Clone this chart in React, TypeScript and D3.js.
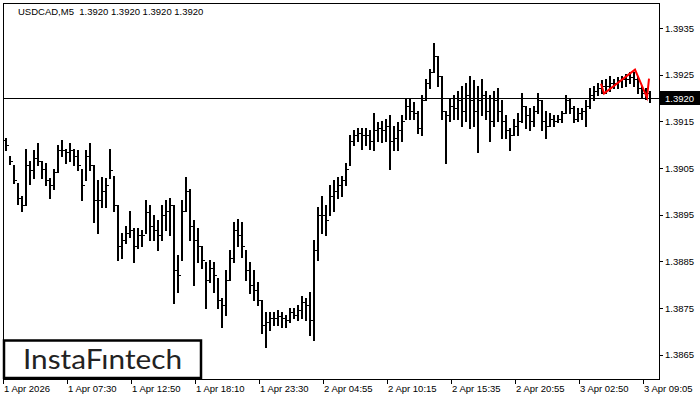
import React from 'react';
import * as d3 from 'd3';

const chartTitle = 'USDCAD,M5  1.3920 1.3920 1.3920 1.3920';
const logoText = 'InstaFıntech';

const highs = [
  1.39114, 1.39075, 1.39056, 1.39019, 1.38991, 1.39090, 1.39066, 1.39088, 1.39103, 1.39066,
  1.39060, 1.39028, 1.39049, 1.39099, 1.39111, 1.39092, 1.39103, 1.39092, 1.39088, 1.39049,
  1.39088, 1.39103, 1.39056, 1.39024, 1.39030, 1.39028, 1.39090, 1.39034, 1.38970, 1.38912,
  1.38925, 1.38959, 1.38921, 1.38921, 1.38917, 1.38981, 1.38970, 1.38949, 1.38938, 1.38970,
  1.38981, 1.38985, 1.38970, 1.38863, 1.38981, 1.39030, 1.39006, 1.38938, 1.38921, 1.38884,
  1.38848, 1.38852, 1.38848, 1.38814, 1.38771, 1.38831, 1.38874, 1.38934, 1.38942, 1.38934,
  1.38874, 1.38848, 1.38831, 1.38805, 1.38767, 1.38741, 1.38741, 1.38741, 1.38745, 1.38741,
  1.38735, 1.38750, 1.38750, 1.38756, 1.38775, 1.38771, 1.38784, 1.38895, 1.38966, 1.38991,
  1.38970, 1.39013, 1.39024, 1.39030, 1.39034, 1.39060, 1.39120, 1.39131, 1.39135, 1.39135,
  1.39135, 1.39131, 1.39169, 1.39148, 1.39152, 1.39156, 1.39163, 1.39141, 1.39148, 1.39163,
  1.39201, 1.39199, 1.39191, 1.39173, 1.39206, 1.39242, 1.39263, 1.39319, 1.39291, 1.39248,
  1.39173, 1.39201, 1.39206, 1.39216, 1.39227, 1.39233, 1.39248, 1.39238, 1.39227, 1.39242,
  1.39216, 1.39206, 1.39216, 1.39221, 1.39195, 1.39163, 1.39135, 1.39156, 1.39169, 1.39210,
  1.39184, 1.39178, 1.39184, 1.39212, 1.39195, 1.39173, 1.39169, 1.39163, 1.39163, 1.39173,
  1.39206, 1.39199, 1.39184, 1.39178, 1.39178, 1.39195, 1.39221, 1.39227, 1.39233, 1.39238,
  1.39242, 1.39248, 1.39242, 1.39246, 1.39248, 1.39251, 1.39255, 1.39255, 1.39248, 1.39227,
  1.39221, 1.39216,
];

const lows = [
  1.39088, 1.39058, 1.39019, 1.38974, 1.38959, 1.38970, 1.39017, 1.39028, 1.39056, 1.39028,
  1.39013, 1.38987, 1.39006, 1.39041, 1.39077, 1.39060, 1.39066, 1.39056, 1.39045, 1.38981,
  1.39024, 1.39045, 1.38934, 1.38910, 1.38966, 1.38966, 1.39028, 1.38959, 1.38852, 1.38857,
  1.38889, 1.38902, 1.38848, 1.38878, 1.38884, 1.38912, 1.38895, 1.38895, 1.38874, 1.38895,
  1.38917, 1.38906, 1.38760, 1.38784, 1.38852, 1.38959, 1.38895, 1.38799, 1.38848, 1.38835,
  1.38750, 1.38805, 1.38784, 1.38750, 1.38709, 1.38735, 1.38810, 1.38848, 1.38884, 1.38859,
  1.38810, 1.38782, 1.38767, 1.38756, 1.38696, 1.38666, 1.38702, 1.38713, 1.38713, 1.38709,
  1.38709, 1.38720, 1.38728, 1.38724, 1.38728, 1.38724, 1.38692, 1.38681, 1.38852, 1.38910,
  1.38906, 1.38949, 1.38959, 1.38985, 1.38991, 1.39013, 1.39056, 1.39099, 1.39109, 1.39092,
  1.39099, 1.39092, 1.39088, 1.39109, 1.39105, 1.39109, 1.39049, 1.39088, 1.39088, 1.39109,
  1.39156, 1.39156, 1.39156, 1.39126, 1.39120, 1.39195, 1.39221, 1.39255, 1.39227, 1.39156,
  1.39060, 1.39152, 1.39156, 1.39156, 1.39141, 1.39152, 1.39135, 1.39141, 1.39084, 1.39163,
  1.39156, 1.39109, 1.39141, 1.39152, 1.39114, 1.39114, 1.39088, 1.39120, 1.39120, 1.39148,
  1.39135, 1.39131, 1.39141, 1.39169, 1.39131, 1.39114, 1.39141, 1.39141, 1.39148, 1.39148,
  1.39169, 1.39169, 1.39148, 1.39152, 1.39156, 1.39141, 1.39178, 1.39195, 1.39206, 1.39210,
  1.39212, 1.39216, 1.39221, 1.39221, 1.39223, 1.39227, 1.39233, 1.39227, 1.39212, 1.39201,
  1.39199, 1.39191,
];

const closes = [
  1.39099, 1.39066, 1.39024, 1.38985, 1.38970, 1.39056, 1.39045, 1.39071, 1.39066, 1.39049,
  1.39024, 1.39013, 1.39041, 1.39088, 1.39088, 1.39084, 1.39088, 1.39077, 1.39056, 1.39013,
  1.39077, 1.39056, 1.38981, 1.38981, 1.39002, 1.39013, 1.39045, 1.38970, 1.38884, 1.38895,
  1.38912, 1.38917, 1.38884, 1.38906, 1.38906, 1.38955, 1.38927, 1.38917, 1.38906, 1.38949,
  1.38959, 1.38970, 1.38831, 1.38820, 1.38959, 1.39002, 1.38927, 1.38895, 1.38884, 1.38852,
  1.38810, 1.38835, 1.38820, 1.38767, 1.38756, 1.38810, 1.38857, 1.38917, 1.38906, 1.38884,
  1.38831, 1.38799, 1.38788, 1.38767, 1.38713, 1.38720, 1.38728, 1.38728, 1.38732, 1.38728,
  1.38724, 1.38741, 1.38735, 1.38745, 1.38762, 1.38756, 1.38724, 1.38874, 1.38949, 1.38949,
  1.38938, 1.38991, 1.39002, 1.39013, 1.39024, 1.39049, 1.39109, 1.39120, 1.39126, 1.39120,
  1.39120, 1.39109, 1.39131, 1.39135, 1.39131, 1.39141, 1.39109, 1.39114, 1.39131, 1.39152,
  1.39184, 1.39173, 1.39169, 1.39135, 1.39195, 1.39233, 1.39255, 1.39291, 1.39248, 1.39173,
  1.39163, 1.39184, 1.39178, 1.39195, 1.39173, 1.39206, 1.39195, 1.39173, 1.39195, 1.39206,
  1.39173, 1.39152, 1.39195, 1.39173, 1.39152, 1.39131, 1.39120, 1.39141, 1.39152, 1.39184,
  1.39163, 1.39152, 1.39173, 1.39195, 1.39152, 1.39141, 1.39156, 1.39152, 1.39156, 1.39169,
  1.39195, 1.39178, 1.39156, 1.39169, 1.39173, 1.39184, 1.39206, 1.39216, 1.39221, 1.39227,
  1.39227, 1.39233, 1.39233, 1.39238, 1.39242, 1.39242, 1.39246, 1.39242, 1.39221, 1.39212,
  1.39212, 1.39200,
];

const firstOpen = 1.3911;
const currentPrice = 1.392;

const priceTicks = [1.3865, 1.3875, 1.3885, 1.3895, 1.3905, 1.3915, 1.3925, 1.3935];

const timeLabels = [
  '1 Apr 2026', '1 Apr 07:30', '1 Apr 12:50', '1 Apr 18:10', '1 Apr 23:30', '2 Apr 04:55',
  '2 Apr 10:15', '2 Apr 15:35', '2 Apr 20:55', '3 Apr 02:50', '3 Apr 09:05',
];
const timeLabelBars = [0, 16, 32, 48, 64, 80, 96, 112, 128, 144, 160];

const patternBars = [149, 149.75, 157.5, 160.5, 161];
const patternPrices = [1.39231, 1.3921, 1.39261, 1.39201, 1.39242];

const W = 700;
const H = 400;
const left = 3;
const right = 659;
const top = 2.5;
const bottom = 379;
const FONT = '"Liberation Sans", Arial, sans-serif';

export default function App() {
  const n = highs.length;
  const x = d3.scaleLinear().domain([0, n - 1]).range([5, 5 + 4 * (n - 1)]);
  const y = d3.scaleLinear().domain([1.38598, 1.39405]).range([bottom, top]);
  const px = (v: number) => Math.round(v) + 0.5;

  const bars = highs.map((h, i) => {
    const o = i === 0 ? firstOpen : closes[i - 1];
    const cx = Math.round(x(i));
    return { cx, h, l: lows[i], o, c: closes[i] };
  });

  const patternLine = d3
    .line<number>()
    .x((_, i) => x(patternBars[i]))
    .y((d) => y(d))(patternPrices) as string;

  const cpY = px(y(currentPrice));

  return (
    <svg
      width={W}
      height={H}
      viewBox={`0 0 ${W} ${H}`}
      style={{ position: 'absolute', left: 0, top: 0, background: '#fff' }}
    >
      <rect x={0} y={0} width={W} height={H} fill="#fff" />
      {/* frame */}
      <g shapeRendering="crispEdges" stroke="#000" strokeWidth={1}>
        <line x1={left} y1={px(top)} x2={right} y2={px(top)} />
        <line x1={px(left)} y1={top} x2={px(left)} y2={bottom} />
        <line x1={px(right)} y1={top} x2={px(right)} y2={bottom + 1} />
        <line x1={left} y1={px(bottom)} x2={right + 1} y2={px(bottom)} />
      </g>

      {/* bars */}
      <g shapeRendering="crispEdges" fill="#000">
        {bars.map((b, i) => {
          const yh = Math.round(y(b.h));
          const yl = Math.round(y(b.l)) + 1;
          const yo = Math.round(y(b.o));
          const yc = Math.round(y(b.c));
          return (
            <g key={i}>
              <rect x={b.cx} y={yh} width={2} height={Math.max(1, yl - yh)} />
              <rect x={b.cx - 2} y={yo} width={2} height={1} />
              <rect x={b.cx + 2} y={yc} width={1} height={1} />
            </g>
          );
        })}
      </g>

      {/* current price line */}
      <line x1={left} x2={right} y1={cpY} y2={cpY} stroke="#000" strokeWidth={1} shapeRendering="crispEdges" />

      {/* pattern */}
      <path d={patternLine} fill="none" stroke="#ff0000" strokeWidth={2} strokeLinejoin="miter" />

      {/* price axis */}
      <g fontFamily={FONT} fontSize={9.5} fill="#000">
        {priceTicks.map((t) => (
          <g key={t}>
            <line x1={right} x2={right + 4} y1={px(y(t))} y2={px(y(t))} stroke="#000" shapeRendering="crispEdges" />
            <text x={right + 6} y={y(t) + 3.5}>{t.toFixed(4)}</text>
          </g>
        ))}
        <rect x={right + 1} y={cpY - 7.5} width={W - right - 1} height={14} fill="#000" />
        <text x={right + 6} y={cpY + 3.5} fill="#fff">{currentPrice.toFixed(4)}</text>
      </g>

      {/* time axis */}
      <g fontFamily={FONT} fontSize={9.5} fill="#000">
        {timeLabels.map((lab, k) => {
          const tx = Math.round(x(timeLabelBars[k])) - 2;
          return (
            <g key={lab}>
              <line x1={tx + 0.5} x2={tx + 0.5} y1={bottom} y2={bottom + 5} stroke="#000" shapeRendering="crispEdges" />
              <text x={tx + 1} y={bottom + 13}>{lab}</text>
            </g>
          );
        })}
      </g>

      {/* title */}
      <text x={18} y={15} fontFamily={FONT} fontSize={9.5} fill="#000" style={{ whiteSpace: 'pre' }}>
        {chartTitle}
      </text>

      {/* logo */}
      <rect x={4} y={340.5} width={197} height={37.5} fill="#fff" stroke="#000" strokeWidth={2.5} />
      <text
        x={23}
        y={369}
        fontFamily='Lato, "Open Sans", sans-serif'
        fontSize={27}
        fill="#222"
        textLength={159}
        lengthAdjust="spacingAndGlyphs"
      >
        {logoText}
      </text>
    </svg>
  );
}
